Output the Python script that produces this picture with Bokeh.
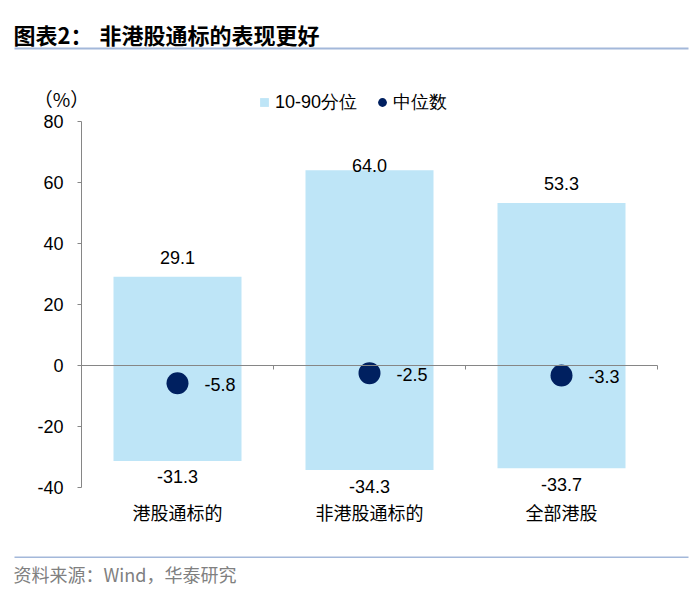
import numpy as np
from bokeh.plotting import figure
from bokeh.models import (ColumnDataSource, LabelSet, Label, Legend, LegendItem,
                          LinearAxis, FixedTicker, BoxAnnotation, Range1d)
from bokeh.core.properties import value
from bokeh.embed import file_html
from bokeh.resources import INLINE

# ---- data ----
categories = ["港股通标的", "非港股通标的", "全部港股"]
p90 = [29.1, 64.0, 53.3]
p10 = [-31.3, -34.3, -33.7]
median = [-5.8, -2.5, -3.3]
y_ticks = [-40, -20, 0, 20, 40, 60, 80]
y_tick_labels = ["-40", "-20", "0", "20", "40", "60", "80"]
title_head = "图表2："
title_text = "非港股通标的表现更好"
source_text = "资料来源：Wind，华泰研究"
legend_labels = ["10-90分位", "中位数"]
unit_text = "（%）"

# ---- style / layout ----
BAR_COLOR = "#BEE5F7"
DOT_COLOR = "#002060"
AXIS_COLOR = "#868686"
RULE_COLOR = "#A3B8DA"
NUM_FONT = "Liberation Sans"
CJK_FONT = "Noto Sans CJK SC"
FS = "18px"
W, H = 692, 597
# pixel position of the plot area (x=0..n, y=Y_MIN..Y_MAX) on the canvas
PX0, PX1, PY_TOP, PY_BOT = 81, 657, 121, 487
Y_MIN, Y_MAX = y_ticks[0], y_ticks[-1]
n = len(categories)
ppx = (PX1 - PX0) / n
ppu = (PY_BOT - PY_TOP) / (Y_MAX - Y_MIN)
x_range = Range1d(-PX0 / ppx, (W - PX0) / ppx)
y_range = Range1d(Y_MAX - (H - PY_TOP) / ppu, Y_MAX + PY_TOP / ppu)


def sy(py):  # canvas y (from top) -> screen units (from bottom)
    return H - py


xc = np.arange(n) + 0.5
hi = np.array(p90)
lo = np.array(p10)
med = np.array(median)

src = ColumnDataSource(dict(
    x=xc, hi=hi, lo=lo, med=med,
    hi_y=np.minimum(hi + 19 / ppu, Y_MAX - 44 / ppu),
    lo_y=lo - 16 / ppu,
    hi_t=[f"{v:.1f}" for v in hi],
    lo_t=[f"{v:.1f}" for v in lo],
    med_t=[f"{v:.1f}" for v in med],
))

p = figure(width=W, height=H, output_backend="svg", toolbar_location=None,
           title=None, x_range=x_range, y_range=y_range,
           min_border=0, x_axis_location=None, y_axis_location=None)
p.outline_line_color = None
p.grid.visible = False
p.background_fill_color = "white"
p.border_fill_color = "white"

bars = p.vbar(x="x", top="hi", bottom="lo", width=2 / 3, source=src,
              fill_color=BAR_COLOR, line_color=None)
dots = p.scatter(x="x", y="med", source=src, size=22, marker="circle",
                 fill_color=DOT_COLOR, line_color=None)
# legend-only square swatch for the bars (drawn with zero size in the plot)
proxy = p.scatter(x="x", y="med", source=src, size=0, marker="square",
                  fill_color=BAR_COLOR, line_color=None)

# y axis
yax = LinearAxis(ticker=FixedTicker(ticks=y_ticks), fixed_location=0,
                 bounds=(Y_MIN, Y_MAX),
                 major_label_overrides={t: s for t, s in zip(y_ticks, y_tick_labels)})
yax.axis_line_color = AXIS_COLOR
yax.major_tick_line_color = AXIS_COLOR
yax.major_tick_out = 4
yax.major_tick_in = 0
yax.minor_tick_line_color = None
yax.major_label_text_font = NUM_FONT
yax.major_label_text_font_size = FS
yax.major_label_text_color = "black"
yax.major_label_standoff = 14
p.add_layout(yax, "left")

# category labels under the plot area
cax = LinearAxis(ticker=FixedTicker(ticks=list(xc)), fixed_location=Y_MIN,
                 major_label_overrides={float(x): c for x, c in zip(xc, categories)})
cax.axis_line_color = None
cax.major_tick_line_color = None
cax.minor_tick_line_color = None
cax.major_label_text_font = CJK_FONT
cax.major_label_text_font_size = FS
cax.major_label_text_color = "black"
cax.major_label_standoff = 5
p.add_layout(cax, "below")

# zero axis line with category boundary ticks
zax = LinearAxis(ticker=FixedTicker(ticks=list(range(n + 1))), fixed_location=0,
                 bounds=(0, n),
                 major_label_overrides={i: "" for i in range(n + 1)})
zax.axis_line_color = AXIS_COLOR
zax.major_tick_line_color = AXIS_COLOR
zax.major_tick_out = 4
zax.major_tick_in = 0
zax.minor_tick_line_color = None
zax.major_label_standoff = 0
p.add_layout(zax, "below")

lab_kw = dict(source=src, text_font=value(NUM_FONT), text_font_size=value(FS),
              text_color="black", text_baseline="middle")
p.add_layout(LabelSet(x="x", y="hi_y", text="hi_t", text_align="center", **lab_kw))
p.add_layout(LabelSet(x="x", y="lo_y", text="lo_t", text_align="center", **lab_kw))
p.add_layout(LabelSet(x="x", y="med", text="med_t", text_align="left",
                      x_offset=27, y_offset=-1, **lab_kw))

# legend
legend = Legend(items=[LegendItem(label=legend_labels[0], renderers=[proxy]),
                       LegendItem(label=legend_labels[1], renderers=[dots])],
                orientation="horizontal", location=(253, sy(102) - 12),
                glyph_width=22, glyph_height=24, label_standoff=0, spacing=14,
                padding=0, margin=0, border_line_color=None,
                background_fill_alpha=0, label_text_font=NUM_FONT,
                label_text_font_size=FS, label_text_color="black",
                label_height=24)
p.add_layout(legend, "center")

# unit label, title, source, rules
p.add_layout(Label(x=61, y=sy(98), x_units="screen", y_units="screen", text=unit_text,
                   text_font=CJK_FONT, text_font_size="19px", text_color="black",
                   text_align="center", text_baseline="middle"))
title_kw = dict(x_units="screen", y_units="screen", text_font=CJK_FONT,
                text_font_size="22px", text_font_style="bold", text_color="black",
                text_baseline="middle")
p.add_layout(Label(x=13, y=sy(33), text=title_head, **title_kw))
p.add_layout(Label(x=99, y=sy(33), text=title_text, **title_kw))
p.add_layout(Label(x=13, y=sy(573), x_units="screen", y_units="screen",
                   text=source_text, text_font=CJK_FONT, text_font_size=FS,
                   text_color="#808080", text_baseline="middle"))
for top_py, thick in ((47, 2), (556, 1.5)):
    p.add_layout(BoxAnnotation(left=14, right=688, top=sy(top_py), bottom=sy(top_py + thick),
                               left_units="screen", right_units="screen",
                               bottom_units="screen", top_units="screen",
                               fill_color=RULE_COLOR, fill_alpha=1, line_color=None))

open("out.html", "w").write(file_html(p, INLINE))
